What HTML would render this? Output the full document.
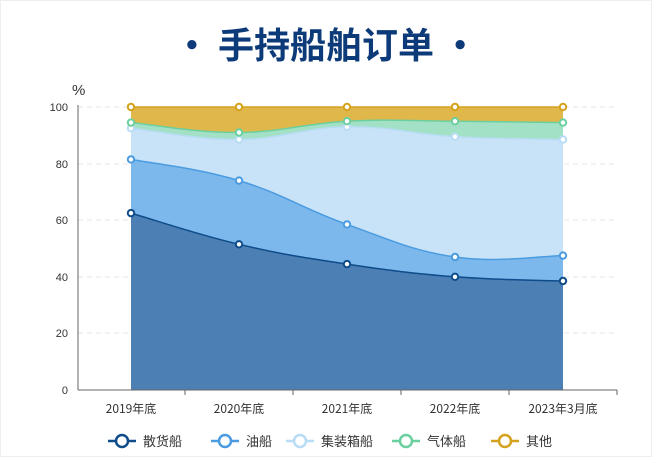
<!DOCTYPE html>
<html><head><meta charset="utf-8"><style>
body{margin:0;background:#fff;width:652px;height:457px;overflow:hidden}
</style></head><body>
<svg width="652" height="457" xmlns="http://www.w3.org/2000/svg" font-family="Liberation Sans, Noto Sans CJK SC, sans-serif">
<rect x="0.5" y="0.5" width="651" height="456" fill="#fff" stroke="#eee"/>
<text x="326" y="58" text-anchor="middle" font-size="36" font-weight="bold" fill="#0d3a78" font-family="Noto Sans CJK SC, sans-serif">· 手持船舶订单 ·</text>
<text x="72" y="95" font-size="15" fill="#333">%</text>
<g stroke="#e6e6e6" stroke-dasharray="5,4">
<line x1="78" x2="617" y1="107" y2="107"/><line x1="78" x2="617" y1="164" y2="164"/><line x1="78" x2="617" y1="220" y2="220"/><line x1="78" x2="617" y1="277" y2="277"/><line x1="78" x2="617" y1="333" y2="333"/>
</g>
<g font-size="11" fill="#333" text-anchor="end">
<text x="68" y="111">100</text><text x="68" y="168">80</text><text x="68" y="224">60</text><text x="68" y="281">40</text><text x="68" y="337">20</text><text x="68" y="394">0</text>
</g>
<path fill="#4c7fb4" d="M131,213.1 C152.6,219.3 195.8,234.1 239,244.3 C282.2,254.5 303.8,257.6 347,264.1 C390.2,270.6 411.8,273.4 455,276.8 C498.2,280.2 541.4,280.2 563,281 L563,390 L131,390 Z"/>
<path fill="#7db8ec" d="M131,159.4 C152.6,163.6 195.8,167.6 239,180.6 C282.2,193.6 303.8,209.1 347,224.4 C390.2,239.7 411.8,250.8 455,257 C498.2,263.2 541.4,255.9 563,255.6 L563,281 C541.4,280.2 498.2,280.2 455,276.8 C411.8,273.4 390.2,270.6 347,264.1 C303.8,257.6 282.2,254.5 239,244.3 C195.8,234.1 152.6,219.3 131,213.1 Z"/>
<path fill="#c8e3f7" d="M131,128.2 C152.6,130.5 195.8,139.8 239,139.5 C282.2,139.2 303.8,127.4 347,126.8 C390.2,126.2 411.8,134.2 455,136.7 C498.2,139.2 541.4,138.9 563,139.5 L563,255.6 C541.4,255.9 498.2,263.2 455,257 C411.8,250.8 390.2,239.7 347,224.4 C303.8,209.1 282.2,193.6 239,180.6 C195.8,167.6 152.6,163.6 131,159.4 Z"/>
<path fill="#a3e1c6" d="M131,122.6 C152.6,124.6 195.8,132.8 239,132.5 C282.2,132.2 303.8,123.5 347,121.2 C390.2,118.9 411.8,120.9 455,121.2 C498.2,121.5 541.4,122.3 563,122.6 L563,139.5 C541.4,138.9 498.2,139.2 455,136.7 C411.8,134.2 390.2,126.2 347,126.8 C303.8,127.4 282.2,139.2 239,139.5 C195.8,139.8 152.6,130.5 131,128.2 Z"/>
<path fill="#e0b74a" d="M131,107 L563,107 L563,122.6 C541.4,122.3 498.2,121.5 455,121.2 C411.8,120.9 390.2,118.9 347,121.2 C303.8,123.5 282.2,132.2 239,132.5 C195.8,132.8 152.6,124.6 131,122.6 Z"/>
<g fill="none" stroke-width="1.5">
<path stroke="#0f4c8a" d="M131,213.1 C152.6,219.3 195.8,234.1 239,244.3 C282.2,254.5 303.8,257.6 347,264.1 C390.2,270.6 411.8,273.4 455,276.8 C498.2,280.2 541.4,280.2 563,281"/>
<path stroke="#4a9be0" d="M131,159.4 C152.6,163.6 195.8,167.6 239,180.6 C282.2,193.6 303.8,209.1 347,224.4 C390.2,239.7 411.8,250.8 455,257 C498.2,263.2 541.4,255.9 563,255.6"/>
<path stroke="#b9dcf5" d="M131,128.2 C152.6,130.5 195.8,139.8 239,139.5 C282.2,139.2 303.8,127.4 347,126.8 C390.2,126.2 411.8,134.2 455,136.7 C498.2,139.2 541.4,138.9 563,139.5"/>
<path stroke="#6ccfa0" d="M131,122.6 C152.6,124.6 195.8,132.8 239,132.5 C282.2,132.2 303.8,123.5 347,121.2 C390.2,118.9 411.8,120.9 455,121.2 C498.2,121.5 541.4,122.3 563,122.6"/>
<path stroke="#d4a21c" d="M131,107 L563,107"/>
</g>
<g fill="#fff" stroke-width="2">
<g stroke="#0f4c8a"><circle cx="131" cy="213.1" r="3.2"/><circle cx="239" cy="244.3" r="3.2"/><circle cx="347" cy="264.1" r="3.2"/><circle cx="455" cy="276.8" r="3.2"/><circle cx="563" cy="281" r="3.2"/></g>
<g stroke="#4a9be0"><circle cx="131" cy="159.4" r="3.2"/><circle cx="239" cy="180.6" r="3.2"/><circle cx="347" cy="224.4" r="3.2"/><circle cx="455" cy="257" r="3.2"/><circle cx="563" cy="255.6" r="3.2"/></g>
<g stroke="#b9dcf5"><circle cx="131" cy="128.2" r="3.2"/><circle cx="239" cy="139.5" r="3.2"/><circle cx="347" cy="126.8" r="3.2"/><circle cx="455" cy="136.7" r="3.2"/><circle cx="563" cy="139.5" r="3.2"/></g>
<g stroke="#6ccfa0"><circle cx="131" cy="122.6" r="3.2"/><circle cx="239" cy="132.5" r="3.2"/><circle cx="347" cy="121.2" r="3.2"/><circle cx="455" cy="121.2" r="3.2"/><circle cx="563" cy="122.6" r="3.2"/></g>
<g stroke="#d4a21c"><circle cx="131" cy="107" r="3.2"/><circle cx="239" cy="107" r="3.2"/><circle cx="347" cy="107" r="3.2"/><circle cx="455" cy="107" r="3.2"/><circle cx="563" cy="107" r="3.2"/></g>
</g>
<line x1="78" y1="105" x2="78" y2="390" stroke="#666"/>
<line x1="78" y1="390" x2="617" y2="390" stroke="#666"/>
<g stroke="#666"><line x1="185" x2="185" y1="390" y2="395"/><line x1="293" x2="293" y1="390" y2="395"/><line x1="401" x2="401" y1="390" y2="395"/><line x1="509" x2="509" y1="390" y2="395"/><line x1="617" x2="617" y1="390" y2="395"/></g>
<g font-size="12" fill="#333" text-anchor="middle" font-family="Noto Sans CJK SC, sans-serif">
<text x="131" y="413">2019年底</text><text x="239" y="413">2020年底</text><text x="347" y="413">2021年底</text><text x="455" y="413">2022年底</text><text x="563" y="413">2023年3月底</text>
</g>
<g font-size="13" fill="#333" font-family="Noto Sans CJK SC, sans-serif" stroke-width="2.5">
<line x1="108" x2="136" y1="441" y2="441" stroke="#0f4c8a"/><circle cx="122" cy="441" r="6" fill="#fff" stroke="#0f4c8a"/><text x="143" y="446">散货船</text>
<line x1="211" x2="239" y1="441" y2="441" stroke="#4a9be0"/><circle cx="225" cy="441" r="6" fill="#fff" stroke="#4a9be0"/><text x="246" y="446">油船</text>
<line x1="286" x2="314" y1="441" y2="441" stroke="#b9dcf5"/><circle cx="300" cy="441" r="6" fill="#fff" stroke="#b9dcf5"/><text x="321" y="446">集装箱船</text>
<line x1="392" x2="420" y1="441" y2="441" stroke="#6ccfa0"/><circle cx="406" cy="441" r="6" fill="#fff" stroke="#6ccfa0"/><text x="427" y="446">气体船</text>
<line x1="491" x2="519" y1="441" y2="441" stroke="#d4a21c"/><circle cx="505" cy="441" r="6" fill="#fff" stroke="#d4a21c"/><text x="526" y="446">其他</text>
</g>
</svg>
</body></html>
